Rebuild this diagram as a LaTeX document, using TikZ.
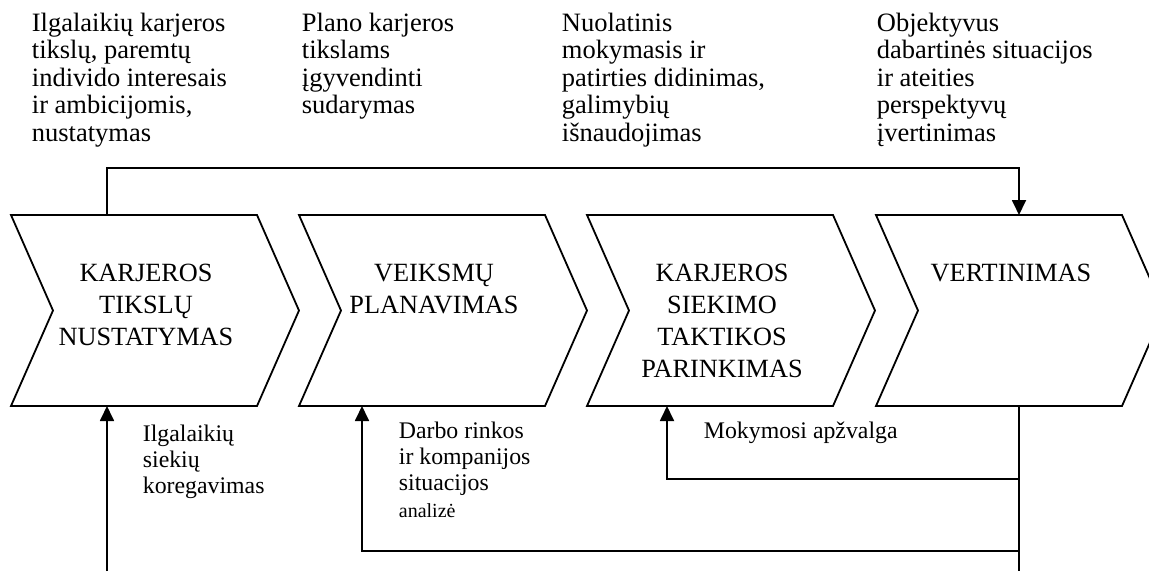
\documentclass[tikz,border=0pt]{standalone}
\usepackage{fontspec}
\setmainfont{Liberation Serif}
\usetikzlibrary{arrows.meta,calc}
\begin{document}
\begin{tikzpicture}[x=1pt,y=-1pt,line width=1.8pt,
  chevbody/.style={draw=none,minimum width=246pt,minimum height=191pt,inner sep=0pt,outer sep=0pt,anchor=north west},
  chevline/.style={draw=black,line width=1.8pt,line join=miter},
  chevtext/.style={font=\fontsize{26.3}{32}\selectfont,align=center,anchor=north,inner sep=0pt},
  toptext/.style={font=\fontsize{26.5}{27.5}\selectfont,align=left,anchor=north west,inner sep=0pt},
  lowtext/.style={font=\fontsize{23.8}{26}\selectfont,align=left,anchor=north west,inner sep=0pt},
  arr/.style={-{Triangle[length=15pt,width=14pt]}},
]
\useasboundingbox[fill=white] (0,0) rectangle (1149,571);

% chevron bodies
\node[chevbody] (c1) at (11,215) {};
\node[chevbody] (c2) at (299,215) {};
\node[chevbody] (c3) at (587,215) {};
\node[chevbody] (c4) at (876,215) {};
\foreach \c in {c1,c2,c3,c4}{
  \draw[chevline] (\c.north west) -- (\c.north east) -- ($(\c.east)+(42,0)$)
    -- (\c.south east) -- (\c.south west) -- ($(\c.west)+(42,0)$) -- cycle;
}

% chevron texts
\node[chevtext] (t1) at ($(c1.north west)+(135,48)$) {KARJEROS\\TIKSLŲ\\NUSTATYMAS};
\node[chevtext] (t2) at ($(c2.north west)+(135,48)$) {VEIKSMŲ\\PLANAVIMAS};
\node[chevtext] (t3) at ($(c3.north west)+(135,48)$) {KARJEROS\\SIEKIMO\\TAKTIKOS\\PARINKIMAS};
\node[chevtext] (t4) at ($(c4.north west)+(135,48)$) {VERTINIMAS};

% top texts
\node[toptext] (p1) at (31,12) {Ilgalaikių karjeros\\tikslų, paremtų\\individo interesais\\ir ambicijomis,\\nustatymas};
\node[toptext] (p2) at (301,12) {Plano karjeros\\tikslams\\įgyvendinti\\sudarymas};
\node[toptext] (p3) at (561,12) {Nuolatinis\\mokymasis ir\\patirties didinimas,\\galimybių\\išnaudojimas};
\node[toptext] (p4) at (876,12) {Objektyvus\\dabartinės situacijos\\ir ateities\\perspektyvų\\įvertinimas};

% lower texts
\node[lowtext] (l1) at (142,424) {Ilgalaikių\\siekių\\koregavimas};
\node[lowtext] (l2) at (398,421.5) {Darbo rinkos\\ir kompanijos\\situacijos};
\node[anchor=base west,inner sep=0pt,font=\fontsize{20}{22}\selectfont] (l2b) at (398,517) {analizė};
\node[anchor=base west,inner sep=0pt,font=\fontsize{23.8}{27}\selectfont] (l3) at (703,438) {Mokymosi apžvalga};

% connection points
\coordinate (c1top) at ($(c1.north west)+(96,0)$);
\coordinate (c4top) at ($(c4.north west)+(143,0)$);
\coordinate (c1bot) at ($(c1.south west)+(96,0)$);
\coordinate (c2bot) at ($(c2.south west)+(63,0)$);
\coordinate (c3bot) at ($(c3.south west)+(80,0)$);
\coordinate (c4bot) at ($(c4.south west)+(143,0)$);
\coordinate (in1) at (107,571);
\coordinate (out4) at (1019,571);
\coordinate (topbar) at (0,168);
\coordinate (bar3) at (0,479);
\coordinate (bar2) at (0,551);

% connectors
\draw[arr] (c1top) -- (c1top |- topbar) -- (c4top |- topbar) -- (c4top);
\draw[arr] (in1) -- (c1bot);
\draw (c4bot) -- (out4);
\draw[arr] (c4bot |- bar3) -- (c3bot |- bar3) -- (c3bot);
\draw[arr] (c4bot |- bar2) -- (c2bot |- bar2) -- (c2bot);
\end{tikzpicture}
\end{document}
